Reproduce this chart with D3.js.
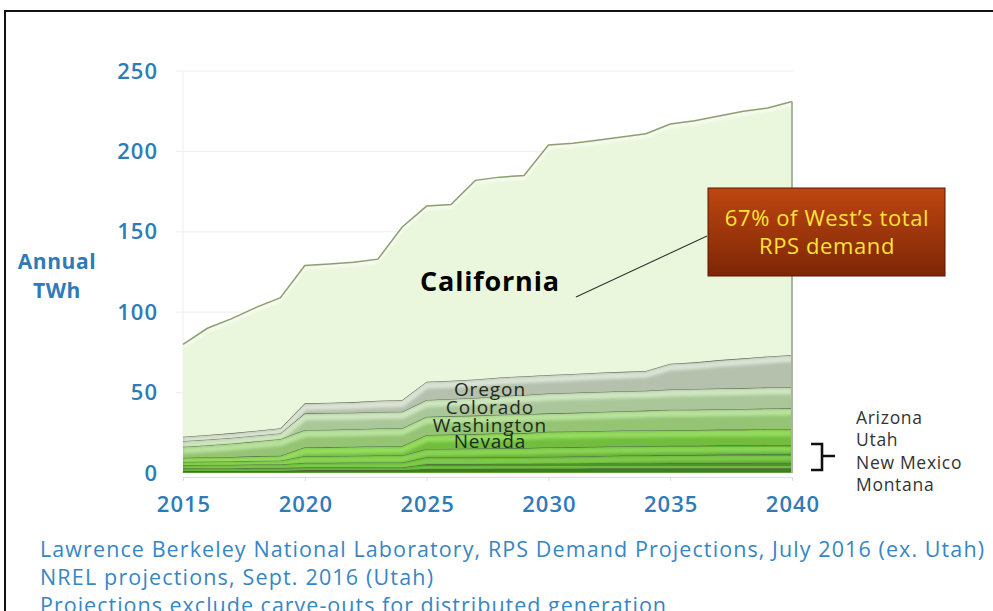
<!DOCTYPE html>
<html><head><meta charset="utf-8">
<script src="https://cdn.jsdelivr.net/npm/d3@7/dist/d3.min.js"></script>
<style>body{margin:0;background:#fff;} svg{display:block}</style>
</head><body><svg id="c" width="993" height="611"></svg>
<script>
const years      = [2015,2016,2017,2018,2019,2020,2021,2022,2023,2024,2025,2026,2027,2028,2029,2030,2031,2032,2033,2034,2035,2036,2037,2038,2039,2040];
const montana    = [1.2,1.3,1.3,1.4,1.4,1.8,1.8,1.8,1.9,1.9,2.7,2.7,2.7,2.8,2.8,2.8,2.8,2.9,2.9,2.9,2.9,2.9,2.9,2.9,2.9,2.9];
const newMexico  = [1.7,1.7,1.7,1.8,1.8,1.7,1.7,1.7,1.7,1.7,2.9,2.9,2.9,3.0,3.0,3.1,3.1,3.1,3.2,3.2,3.3,3.3,3.4,3.4,3.5,3.5];
const utah       = [2.1,2.1,2.2,2.2,2.3,2.9,2.9,3.0,3.0,3.0,4.2,4.2,4.2,4.2,4.2,4.2,4.4,4.6,4.8,4.9,5.1,5.1,5.2,5.3,5.4,5.4];
const arizona    = [2.0,2.1,2.1,2.2,2.3,4.2,4.2,4.2,4.3,4.3,5.1,5.3,5.4,5.5,5.5,5.9,5.8,5.8,5.8,5.8,5.7,5.7,5.7,5.6,5.6,5.6];
const nevada     = [2.5,2.6,2.7,2.9,3.0,5.4,5.5,5.6,5.8,5.9,8.7,8.9,9.0,9.2,9.3,9.7,9.7,9.7,9.7,9.7,9.8,9.8,9.8,9.8,9.8,9.8];
const washington = [6.9,7.5,8.3,9.2,10.3,10.7,10.8,10.9,11.0,11.0,11.4,11.4,11.5,11.6,11.7,11.4,11.6,11.8,12.0,12.3,12.5,12.6,12.7,12.8,12.9,13.0];
const colorado   = [3.5,3.5,3.6,3.6,3.6,10.4,10.4,10.3,10.3,10.3,10.4,10.6,11.0,11.5,12.0,12.4,12.5,12.5,12.4,12.4,12.7,12.8,12.9,13.0,13.1,13.1];
const oregon     = [2.7,2.8,2.9,3.0,3.1,6.2,6.4,6.6,7.0,7.3,11.4,11.4,11.5,11.6,11.7,11.5,11.7,11.9,12.1,12.3,16.0,16.6,17.6,18.5,19.3,20.1];
const california = [57.4,66.4,71.2,76.7,81.2,85.7,86.3,86.9,88.0,107.6,109.2,109.6,123.8,124.6,124.8,143.0,143.4,144.7,146.1,147.5,149.0,150.2,151.8,153.7,154.5,157.6];

const stateKeys  = ["Montana","New Mexico","Utah","Arizona","Nevada","Washington","Colorado","Oregon","California"];
const xTicks = [2015,2020,2025,2030,2035,2040];
const yTicks = [0,50,100,150,200,250];
const bandLabels = ["Oregon","Colorado","Washington","Nevada"];
const bracketStates = ["Arizona","Utah","New Mexico","Montana"];
const yAxisTitle = ["Annual","TWh"];
const calloutLines = ["67% of West\u2019s total","RPS demand"];
const footerLines = [
  "Lawrence Berkeley National Laboratory, RPS Demand Projections, July 2016 (ex. Utah)",
  "NREL projections, Sept. 2016 (Utah)",
  "Projections exclude carve-outs for distributed generation"
];
const footerWidths = [944, 393, 626];

const seriesByKey = {"Montana":montana,"New Mexico":newMexico,"Utah":utah,"Arizona":arizona,"Nevada":nevada,
  "Washington":washington,"Colorado":colorado,"Oregon":oregon,"California":california};
const rows = years.map((yr,i)=>{const r={year:yr}; stateKeys.forEach(k=>r[k]=seriesByKey[k][i]); return r;});

const fills = {"Montana":"#3f7c1c","New Mexico":"#4f9526","Utah":"#5aa52d","Arizona":"#66b236","Nevada":"#72bd3e",
  "Washington":"#94c474","Colorado":"#aac79a","Oregon":"#b5c0ad","California":"#eaf7dc"};
const highs = {"Montana":"#5ea636","New Mexico":"#70bd43","Utah":"#7fcb4c","Arizona":"#8ad455","Nevada":"#95dc60",
  "Washington":"#b9e29e","Colorado":"#cfe6c1","Oregon":"#dbe3d5","California":"#f3fbea"};

const svg = d3.select("#c");
const x = d3.scaleLinear().domain([2015,2040]).range([183,792]);
const y = d3.scaleLinear().domain([0,250]).range([473,71]);

// frame
svg.append("rect").attr("x",5).attr("y",11).attr("width",1100).attr("height",700)
  .attr("fill","none").attr("stroke","#111").attr("stroke-width",2);

const defs = svg.append("defs");
defs.append("filter").attr("id","blur").append("feGaussianBlur").attr("stdDeviation",1.4);
const cg = defs.append("linearGradient").attr("id","callout").attr("x1",0).attr("y1",0).attr("x2",0).attr("y2",1);
cg.append("stop").attr("offset","0%").attr("stop-color","#bd4610");
cg.append("stop").attr("offset","100%").attr("stop-color","#7e2606");

// gridlines
svg.append("g").selectAll("line").data(yTicks.filter(d=>d>0)).join("line")
  .attr("x1",176).attr("x2",793).attr("y1",d=>y(d)).attr("y2",d=>y(d))
  .attr("stroke","#eeeeee").attr("stroke-width",1);
svg.append("line").attr("x1",183).attr("x2",183).attr("y1",y(250)).attr("y2",y(0)).attr("stroke","#eeeeee");

// axes
const yAxis = svg.append("g").attr("transform","translate(183,0)")
  .call(d3.axisLeft(y).tickValues(yTicks).tickSize(0).tickPadding(25));
yAxis.select(".domain").remove();
yAxis.selectAll("text").attr("font-family","Open Sans").attr("font-size",22).attr("font-weight",600)
  .attr("letter-spacing","1px").attr("fill","#2f7ab8");

const xAxis = svg.append("g").attr("transform","translate(0,477)")
  .call(d3.axisBottom(x).tickValues(xTicks).tickFormat(d3.format("d")).tickSize(4).tickPadding(15));
xAxis.select(".domain").attr("stroke","#dddddd");
xAxis.selectAll(".tick line").attr("stroke","#dddddd");
xAxis.selectAll("text").attr("font-family","Open Sans").attr("font-size",22).attr("font-weight",600)
  .attr("letter-spacing","1px").attr("dx","0.5px").attr("fill","#2f7ab8");

// stack
const stack = d3.stack().keys(stateKeys);
const layers = stack(rows);
const area = d3.area().x(d=>x(d.data.year)).y0(d=>y(d[0])).y1(d=>y(d[1]));
const topLine = d3.line().x(d=>x(d.data.year)).y(d=>y(d[1]));

const gL = svg.append("g");
layers.forEach((L,i)=>{
  const id = "clip"+i;
  defs.append("clipPath").attr("id",id).append("path").attr("d",area(L));
  gL.append("path").attr("d",area(L)).attr("fill",fills[L.key]);
  const g = gL.append("g").attr("clip-path",`url(#${id})`);
  if (L.key!=="California") {
    g.append("path").attr("d",topLine(L)).attr("transform","translate(0,4)")
      .attr("fill","none").attr("stroke",highs[L.key]).attr("stroke-width",6).attr("filter","url(#blur)");
  } else {
    g.append("path").attr("d",topLine(L)).attr("transform","translate(0,2.5)")
      .attr("fill","none").attr("stroke","#ffffff").attr("stroke-width",2.5).attr("opacity",0.8).attr("filter","url(#blur)");
  }
  gL.append("path").attr("d",topLine(L)).attr("fill","none")
    .attr("stroke", L.key==="California" ? "#7d8d5c" : "#4f5d45")
    .attr("stroke-width", L.key==="California" ? 1.5 : 1.1).attr("opacity",0.85);
});
// right edge shading
const last = layers[layers.length-1];
gL.append("line").attr("x1",x(2040)).attr("x2",x(2040)).attr("y1",y(last[last.length-1][1])).attr("y2",y(0))
  .attr("stroke","#a9b5a0").attr("stroke-width",2);

// band labels at 2027 midpoints
const li = years.indexOf(2027);
bandLabels.forEach(k=>{
  const L = layers.find(l=>l.key===k);
  const mid = (L[li][0]+L[li][1])/2;
  svg.append("text").attr("x",x(2027.6)).attr("y",y(mid)).attr("dy","0.36em")
    .attr("text-anchor","middle").attr("font-family","Open Sans").attr("font-size",19)
    .attr("letter-spacing","0.9px").attr("fill","#1d2b1d").text(k);
});

// California label
svg.append("text").attr("x",x(2027.6)).attr("y",y(119)).attr("dy","0.36em").attr("text-anchor","middle")
  .attr("font-family","Open Sans").attr("font-weight",700).attr("font-size",27)
  .attr("letter-spacing","0.8px").attr("fill","#000").text("California");

// callout line
svg.append("line").attr("x1",576).attr("y1",297).attr("x2",707).attr("y2",236).attr("stroke","#333").attr("stroke-width",1.1);
svg.append("rect").attr("x",708).attr("y",188).attr("width",237).attr("height",88)
  .attr("fill","url(#callout)").attr("stroke","#5a1800").attr("stroke-width",1);
calloutLines.forEach((t,i)=>{
  svg.append("text").attr("x",827).attr("y",226+i*28).attr("text-anchor","middle")
    .attr("font-family","Open Sans").attr("font-size",22).attr("letter-spacing","0.6px")
    .attr("fill","#ffe23a").text(t);
});

// y title
yAxisTitle.forEach((t,i)=>{
  svg.append("text").attr("x",57).attr("y",269+i*29).attr("text-anchor","middle")
    .attr("font-family","Open Sans").attr("font-weight",700).attr("font-size",21)
    .attr("letter-spacing","0.6px").attr("fill","#2f7ab8").text(t);
});

// bracket
svg.append("path").attr("d","M811,444 H822 V456 H835 M822,456 V470 H811")
  .attr("fill","none").attr("stroke","#111").attr("stroke-width",2.6);
bracketStates.forEach((t,i)=>{
  svg.append("text").attr("x",856).attr("y",424+i*22.3)
    .attr("font-family","Open Sans").attr("font-size",17.5).attr("letter-spacing","0.7px")
    .attr("fill","#333").text(t);
});

// footer
footerLines.forEach((t,i)=>{
  svg.append("text").attr("x",40).attr("y",557+i*28)
    .attr("font-family","Open Sans").attr("font-size",21.5)
    .attr("textLength",footerWidths[i]).attr("lengthAdjust","spacing")
    .attr("fill","#3786c4").text(t);
});
</script></body></html>
